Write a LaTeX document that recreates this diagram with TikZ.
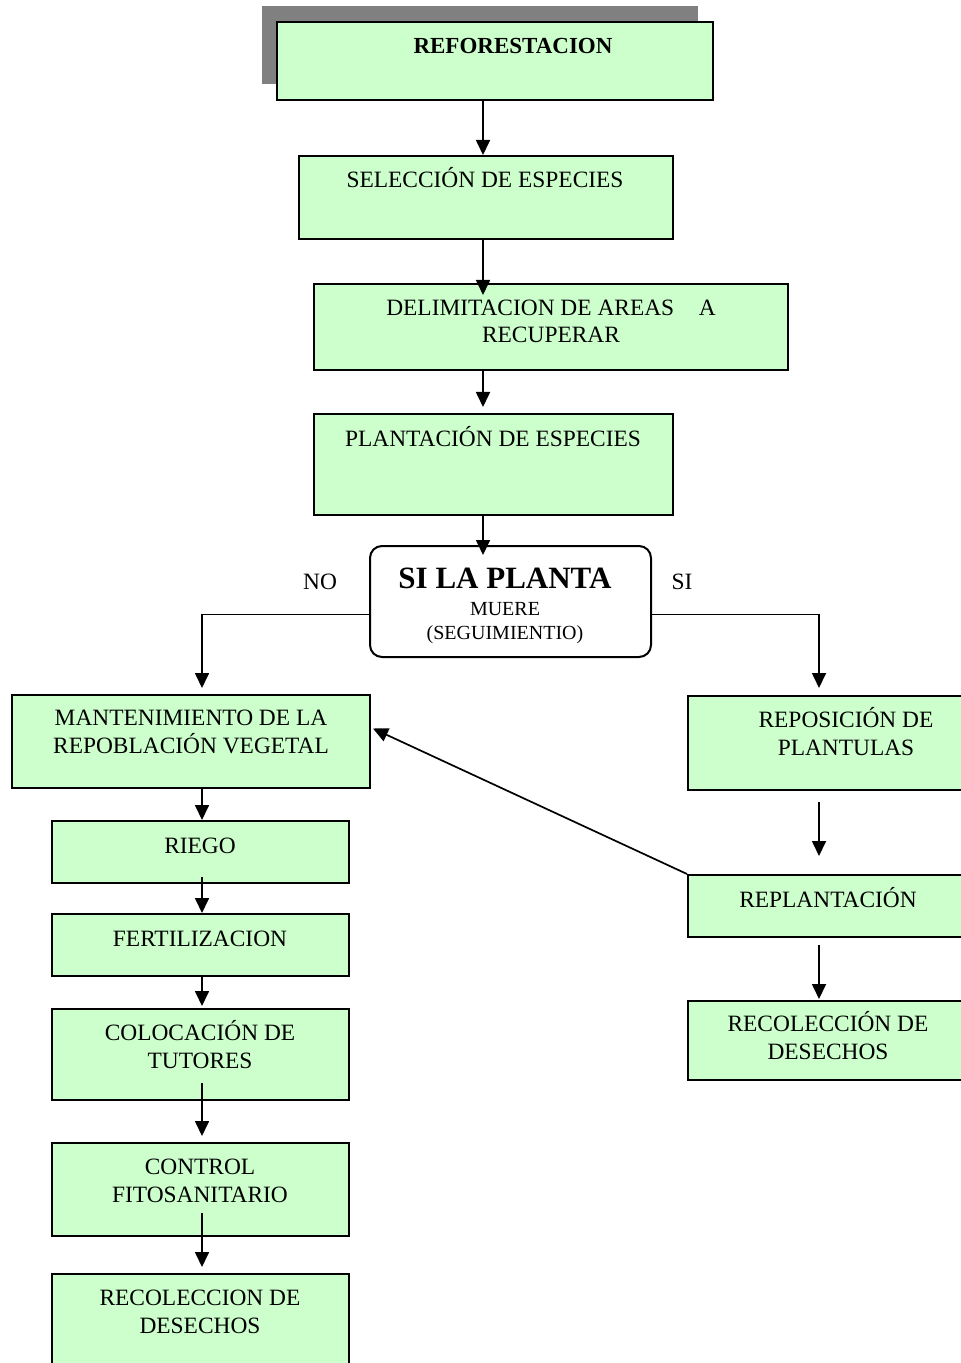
\documentclass[tikz,border=0pt]{standalone}
\usepackage{fontspec}
\setmainfont{Liberation Serif}
\usetikzlibrary{arrows.meta,shadows}
\definecolor{verde}{HTML}{CCFFCC}
\tikzset{
  caja/.style={draw,line width=1pt,fill=verde,inner sep=0pt},
  txt/.style={anchor=base,align=center,inner sep=0pt,font=\fontsize{11.7}{13.6}\selectfont},
  flecha/.style={line width=0.85pt,-{Triangle[width=7pt,length=7.5pt]}}
}
\begin{document}
\begin{tikzpicture}[x=0.5pt,y=-0.5pt]
\useasboundingbox (0,0) rectangle (961,1363);
\coordinate (eje) at (483,0);
\coordinate (izq) at (202,0);
\coordinate (der) at (819,0);
\node[caja,minimum width=218pt,minimum height=39pt,
  drop shadow={shadow xshift=-7.5pt,shadow yshift=8pt,fill=gray,opacity=1}] (refo) at (495,61) {};
\node[caja,minimum width=187pt,minimum height=41.5pt] (sel) at (486,197.5) {};
\node[caja,minimum width=237pt,minimum height=43pt] (del) at (551,327) {};
\node[caja,minimum width=179.5pt,minimum height=50.5pt] (pla) at (493.5,464.5) {};
\node[draw,line width=1pt,fill=white,rounded corners=6pt,minimum width=140.5pt,minimum height=55.5pt] (dec) at (510.5,601.5) {};
\node[caja,minimum width=179pt,minimum height=46.5pt] (man) at (191,741.5) {};
\node[caja,minimum width=137pt,minimum height=47pt] (rep) at (825,743) {};
\node[caja,minimum width=137pt,minimum height=31pt] (rpl) at (825,906) {};
\node[caja,minimum width=137pt,minimum height=39.5pt] (rcd) at (825,1040.5) {};
\node[caja,minimum width=148.5pt,minimum height=31pt] (rie) at (200.5,852) {};
\node[caja,minimum width=148.5pt,minimum height=31pt] (fer) at (200.5,945) {};
\node[caja,minimum width=148.5pt,minimum height=45.5pt] (col) at (200.5,1054.5) {};
\node[caja,minimum width=148.5pt,minimum height=46.5pt] (con) at (200.5,1189.5) {};
\node[caja,minimum width=148.5pt,minimum height=48pt] (rcl) at (200.5,1322) {};

\node[txt,font=\fontsize{11.5}{13.6}\selectfont\bfseries] (refoT) at (513,54) {REFORESTACION};
\node[txt] (selT) at (485,188) {SELECCIÓN DE ESPECIES};
\node[txt] (delT) at (551,343) {DELIMITACION DE AREAS\hspace{1.05em}A\\RECUPERAR};
\node[txt] (plaT) at (493,446) {PLANTACIÓN DE ESPECIES};
\node[txt,font=\fontsize{15.5}{17}\selectfont\bfseries] (decT) at (505,588) {SI LA PLANTA};
\node[txt,font=\fontsize{10}{12}\selectfont] (decS) at (505,639) {MUERE\\(SEGUIMIENTIO)};
\node[txt] (no) at (320,589) {NO};
\node[txt] (si) at (682,589) {SI};
\node[txt] (manT) at (191,753) {MANTENIMIENTO DE LA\\REPOBLACIÓN VEGETAL};
\node[txt] (repT) at (846,755) {REPOSICIÓN DE\\PLANTULAS};
\node[txt] (rplT) at (828,907) {REPLANTACIÓN};
\node[txt] (rcdT) at (828,1059) {RECOLECCIÓN DE\\DESECHOS};
\node[txt] (rieT) at (200,853) {RIEGO};
\node[txt] (ferT) at (200,946) {FERTILIZACION};
\node[txt] (colT) at (200,1068) {COLOCACIÓN DE\\TUTORES};
\node[txt] (conT) at (200,1202) {CONTROL\\FITOSANITARIO};
\node[txt] (rclT) at (200,1333) {RECOLECCION DE\\DESECHOS};

\draw[flecha] (refo.south -| eje) -- (sel.north -| eje);
\draw[flecha] (sel.south -| eje) -- ([yshift=-6pt]del.north -| eje);
\draw[flecha] (del.south -| eje) -- ([yshift=3pt]pla.north -| eje);
\draw[flecha] (pla.south -| eje) -- ([yshift=-5pt]dec.north -| eje);
\draw[flecha] ([yshift=-6.5pt]dec.west) -| ([yshift=3pt]man.north -| izq);
\draw[flecha] ([yshift=-6.5pt]dec.east) -| ([yshift=3.5pt]rep.north -| der);
\draw[flecha] (man.south -| izq) -- (rie.north -| izq);
\draw[flecha] ([yshift=3.5pt]rie.south -| izq) -- (fer.north -| izq);
\draw[flecha] (fer.south -| izq) -- ([yshift=1pt]col.north -| izq);
\draw[flecha] ([yshift=9pt]col.south -| izq) -- ([yshift=3pt]con.north -| izq);
\draw[flecha] ([yshift=12pt]con.south -| izq) -- ([yshift=3pt]rcl.north -| izq);
\draw[flecha] ([yshift=-5.5pt]rep.south -| der) -- ([yshift=9pt]rpl.north -| der);
\draw[flecha] ([yshift=-3.5pt]rpl.south -| der) -- ([yshift=0.5pt]rcd.north -| der);
\draw[flecha] (rpl.north west) -- ([xshift=1pt,yshift=6.5pt]man.east);
\end{tikzpicture}
\end{document}
